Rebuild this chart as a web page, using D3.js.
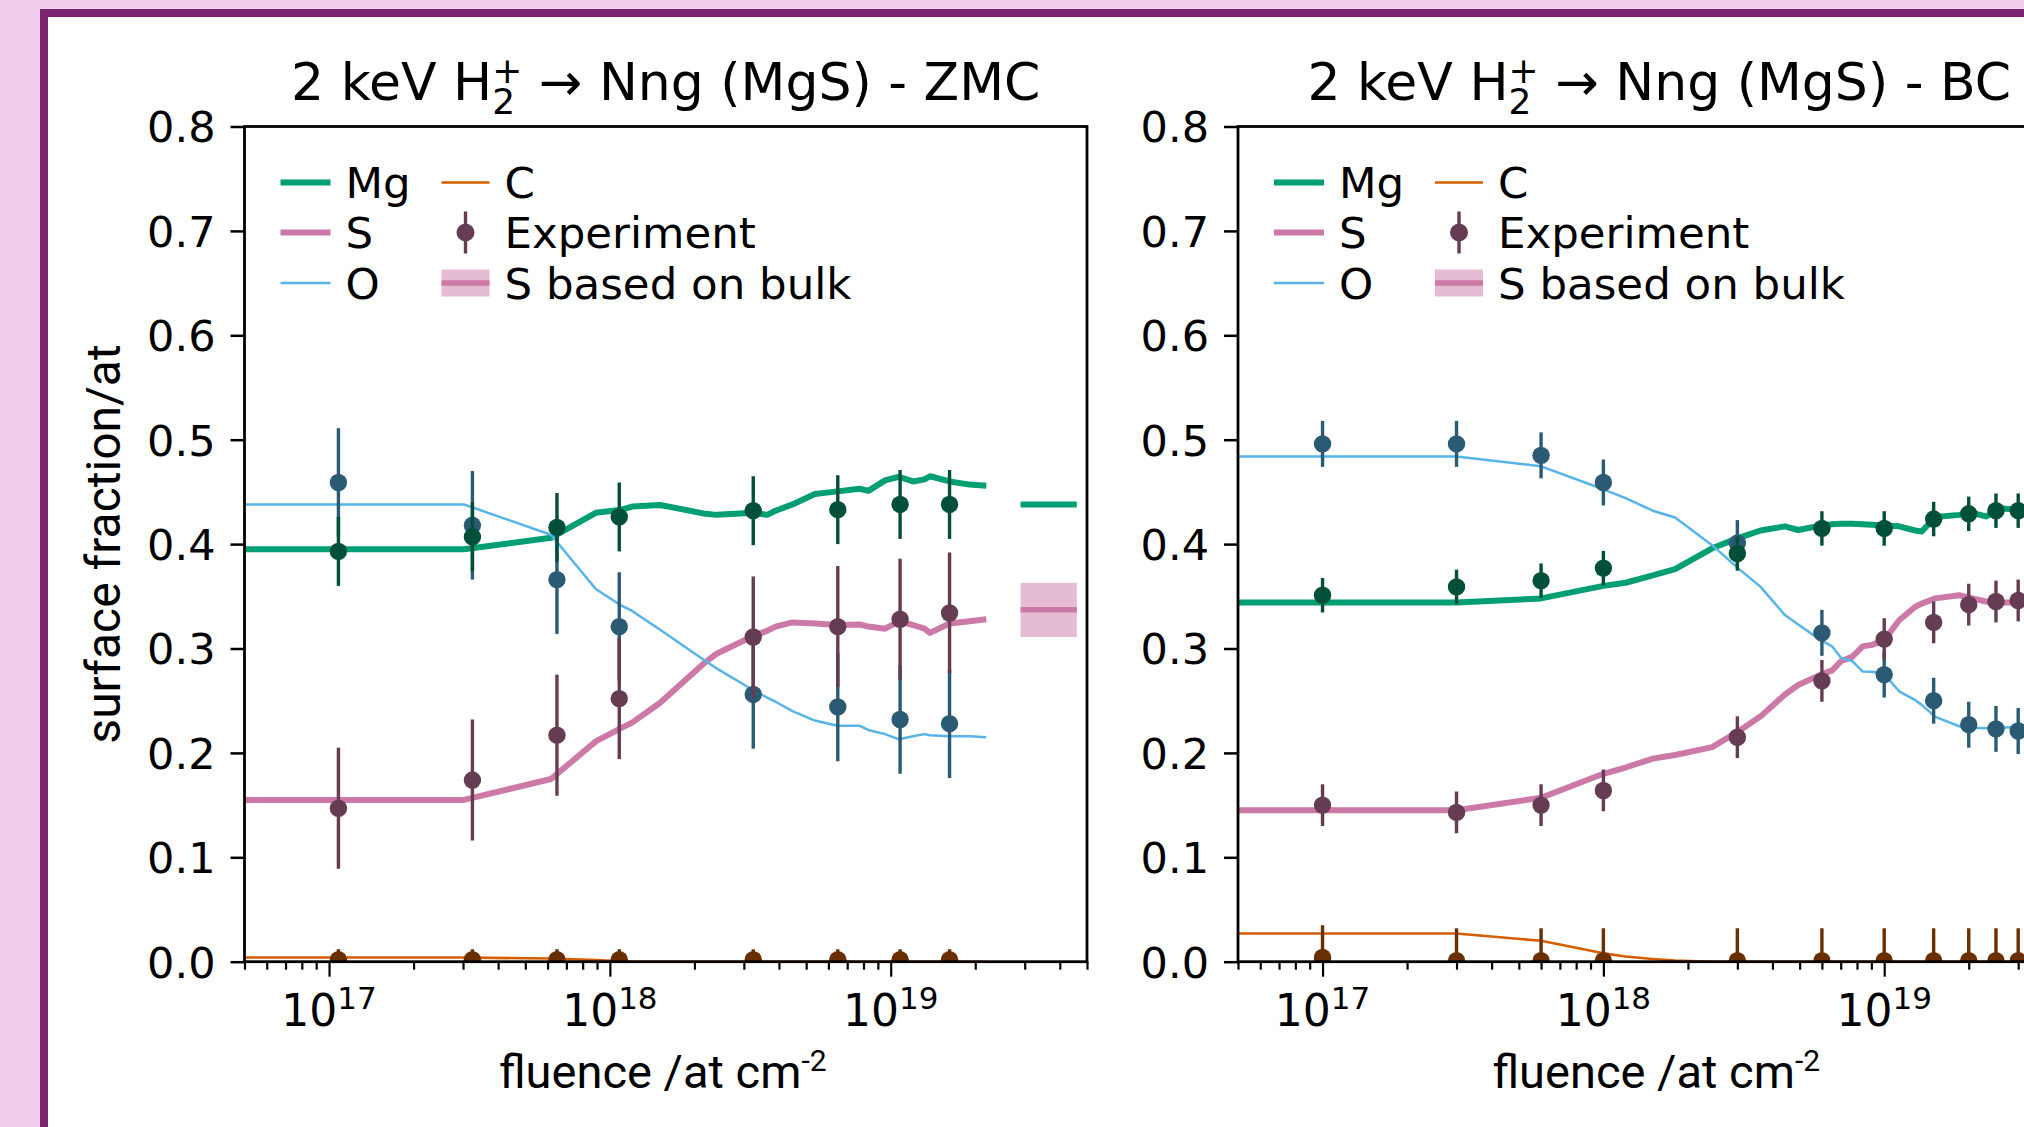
<!DOCTYPE html>
<html lang="en">
<head>
  <meta charset="UTF-8" />
  <title>Surface fraction vs fluence - MgS</title>
  <script src="https://d3js.org/d3.v7.min.js"></script>
  <style>
    body {
      margin: 0;
      padding: 0;
      background-color: #f2ceee;
    }

    svg {
      display: block;
    }

    .mpl {
      font-family: "DejaVu Sans", sans-serif;
      fill: #000;
    }

    .label {
      font-family: Roboto, "Open Sans", sans-serif;
      fill: #000;
    }
  </style>
</head>
<body>
  <svg id="chart" width="2024" height="1127"></svg>

  <script>
    // ---- data -------------------------------------------------------------

    const fluenceDomain = [5e16, 5e19];
    const fractionDomain = [0, 0.8];
    const fractionTicks = [0, 0.1, 0.2, 0.3, 0.4, 0.5, 0.6, 0.7, 0.8];
    const majorFluenceTicks = [1e17, 1e18, 1e19];
    const majorFluenceExps = ["17", "18", "19"];

    // ZMC simulation
    const zmcSimFluence = [5.0e16, 3.02e17, 6.17e17, 8.91e17, 1.10e18, 1.20e18, 1.51e18, 2.19e18,
      2.40e18, 3.24e18, 3.63e18, 3.89e18, 4.47e18, 5.37e18, 6.46e18, 7.76e18, 8.32e18, 9.55e18,
      1.07e19, 1.20e19, 1.32e19, 1.38e19, 1.62e19, 1.91e19, 2.19e19];
    const zmcSimMg = [0.395, 0.395, 0.406, 0.430, 0.433, 0.436, 0.4375, 0.429,
      0.428, 0.430, 0.428, 0.432, 0.438, 0.448, 0.4505, 0.453, 0.451, 0.461,
      0.4645, 0.460, 0.462, 0.465, 0.460, 0.457, 0.456];
    const zmcSimS = [0.155, 0.155, 0.175, 0.211, 0.224, 0.229, 0.248, 0.287,
      0.295, 0.312, 0.317, 0.321, 0.325, 0.324, 0.3225, 0.323, 0.321, 0.319,
      0.326, 0.3225, 0.319, 0.315, 0.324, 0.326, 0.328];
    const zmcSimO = [0.438, 0.438, 0.409, 0.357, 0.341, 0.336, 0.318, 0.288,
      0.281, 0.260, 0.253, 0.249, 0.240, 0.231, 0.226, 0.226, 0.222, 0.218,
      0.213, 0.216, 0.218, 0.217, 0.216, 0.216, 0.215];
    const zmcSimC = [0.004, 0.004, 0.003, 0.0015, 0.0005, 0, 0, 0,
      0, 0, 0, 0, 0, 0, 0, 0, 0, 0,
      0, 0, 0, 0, 0, 0, 0];

    // ZMC experiment
    const zmcExpFluence = [1.08e17, 3.24e17, 6.48e17, 1.08e18, 3.24e18, 6.48e18, 1.08e19, 1.62e19];
    const zmcExpMg = [0.393, 0.407, 0.416, 0.426, 0.432, 0.433, 0.438, 0.438];
    const zmcExpS = [0.147, 0.174, 0.217, 0.252, 0.311, 0.321, 0.328, 0.334];
    const zmcExpO = [0.459, 0.418, 0.366, 0.321, 0.256, 0.244, 0.232, 0.228];
    const zmcExpC = [0.002, 0.002, 0.002, 0.002, 0.002, 0.002, 0.002, 0.002];
    const zmcExpErr = [0.033, 0.058, 0.052, 0.010]; // Mg, S, O, C

    // bulk reference (ZMC panel)
    const bulkFluence = [2.9e19, 4.6e19];
    const bulkMg = 0.438;
    const bulkS = 0.337;
    const bulkSErr = 0.026;

    // BC simulation
    const bcSimFluence = [5.0e16, 3.0e17, 6.0e17, 1.0e18, 1.2e18, 1.5e18, 1.8e18, 2.44e18,
      3.0e18, 3.63e18, 4.43e18, 4.94e18, 5.94e18, 6.53e18, 7.03e18, 7.69e18, 8.38e18, 9.06e18,
      1.0e19, 1.13e19, 1.29e19, 1.36e19, 1.52e19, 1.85e19, 2.06e19, 2.30e19, 2.63e19, 3.02e19, 3.98e19];
    const bcSimMg = [0.344, 0.344, 0.348, 0.360, 0.363, 0.370, 0.376, 0.396,
      0.4055, 0.413, 0.417, 0.4135, 0.4177, 0.419, 0.4195, 0.4195, 0.419, 0.4185,
      0.4177, 0.417, 0.413, 0.412, 0.426, 0.428, 0.430, 0.4265, 0.434, 0.433, 0.433];
    const bcSimS = [0.145, 0.145, 0.157, 0.180, 0.186, 0.1945, 0.198, 0.2055,
      0.220, 0.235, 0.256, 0.265, 0.275, 0.279, 0.288, 0.292, 0.302, 0.3035,
      0.308, 0.327, 0.340, 0.343, 0.348, 0.351, 0.348, 0.345, 0.344, 0.344, 0.344];
    const bcSimO = [0.484, 0.484, 0.4745, 0.4525, 0.444, 0.432, 0.4255, 0.399,
      0.3775, 0.359, 0.332, 0.323, 0.308, 0.302, 0.291, 0.288, 0.278, 0.2778,
      0.2755, 0.259, 0.2505, 0.246, 0.2345, 0.2255, 0.224, 0.2235, 0.224, 0.225, 0.225];
    const bcSimC = [0.027, 0.027, 0.020, 0.008, 0.005, 0.0026, 0.001, 0,
      0, 0, 0, 0, 0, 0, 0, 0, 0, 0,
      0, 0, 0, 0, 0, 0, 0, 0, 0, 0, 0];

    // BC experiment
    const bcExpFluence = [1e17, 3e17, 6e17, 1e18, 3e18, 6e18, 1e19, 1.5e19, 2e19, 2.5e19, 3e19];
    const bcExpMg = [0.351, 0.359, 0.365, 0.377, 0.391, 0.415, 0.415, 0.424, 0.429, 0.432, 0.432];
    const bcExpS = [0.150, 0.143, 0.150, 0.164, 0.215, 0.269, 0.309, 0.325, 0.342, 0.345, 0.346];
    const bcExpO = [0.496, 0.496, 0.485, 0.459, 0.401, 0.315, 0.275, 0.250, 0.227, 0.223, 0.221];
    const bcExpC = [0.004, 0.001, 0.001, 0.001, 0.001, 0.001, 0.001, 0.001, 0.001, 0.001, 0.001];
    const bcExpErr = [0.0165, 0.020, 0.022, 0.031]; // Mg, S, O, C

    const elements = ["Mg", "S", "O", "C"];
    const legendLabels = ["Mg", "S", "O", "C", "Experiment", "S based on bulk"];

    // ---- styles -----------------------------------------------------------

    const lineColors = { Mg: "#009e73", S: "#cc79a7", O: "#56b4e9", C: "#d55e00" };
    const markerColors = { Mg: "#004f39", S: "#663c53", O: "#2b5a74", C: "#6a2f00" };
    const lineWidths = { Mg: 6, S: 6, O: 2.5, C: 2.6 };

    const W = 2024, H = 1127;
    const plotW = 842.5;
    const plotTop = 126.5, plotBottom = 961.7;

    const svg = d3.select("#chart");

    // slide background + frame
    svg.append("rect").attr("width", W).attr("height", H).attr("fill", "#f2ceee");
    svg.append("rect").attr("x", 40).attr("y", 9).attr("width", W - 40).attr("height", H - 9).attr("fill", "#7a2470");
    svg.append("rect").attr("x", 48).attr("y", 17).attr("width", W - 48).attr("height", H - 17).attr("fill", "#ffffff");

    const panels = [
      {
        key: "zmc", left: 244.5, title: "ZMC", ylabel: true,
        simX: zmcSimFluence, sim: { Mg: zmcSimMg, S: zmcSimS, O: zmcSimO, C: zmcSimC },
        expX: zmcExpFluence, exp: { Mg: zmcExpMg, S: zmcExpS, O: zmcExpO, C: zmcExpC },
        err: { Mg: zmcExpErr[0], S: zmcExpErr[1], O: zmcExpErr[2], C: zmcExpErr[3] },
        bulk: true
      },
      {
        key: "bc", left: 1238, title: "BC", ylabel: false,
        simX: bcSimFluence, sim: { Mg: bcSimMg, S: bcSimS, O: bcSimO, C: bcSimC },
        expX: bcExpFluence, exp: { Mg: bcExpMg, S: bcExpS, O: bcExpO, C: bcExpC },
        err: { Mg: bcExpErr[0], S: bcExpErr[1], O: bcExpErr[2], C: bcExpErr[3] },
        bulk: false
      }
    ];

    panels.forEach(drawPanel);

    function drawPanel(p) {
      const x = d3.scaleLog().domain(fluenceDomain).range([p.left, p.left + plotW]);
      const y = d3.scaleLinear().domain(fractionDomain).range([plotBottom, plotTop]);
      const g = svg.append("g");

      const clipId = "clip-" + p.key;
      svg.append("clipPath").attr("id", clipId).append("rect")
        .attr("x", p.left).attr("y", plotTop)
        .attr("width", plotW).attr("height", plotBottom - plotTop);
      const plot = g.append("g").attr("clip-path", `url(#${clipId})`);

      // bulk reference values
      if (p.bulk) {
        plot.append("rect")
          .attr("x", x(bulkFluence[0])).attr("width", x(bulkFluence[1]) - x(bulkFluence[0]))
          .attr("y", y(bulkS + bulkSErr)).attr("height", y(bulkS - bulkSErr) - y(bulkS + bulkSErr))
          .attr("fill", lineColors.S).attr("fill-opacity", 0.5);
        plot.append("line")
          .attr("x1", x(bulkFluence[0])).attr("x2", x(bulkFluence[1]))
          .attr("y1", y(bulkS)).attr("y2", y(bulkS))
          .attr("stroke", lineColors.S).attr("stroke-width", 5.5);
        plot.append("line")
          .attr("x1", x(bulkFluence[0])).attr("x2", x(bulkFluence[1]))
          .attr("y1", y(bulkMg)).attr("y2", y(bulkMg))
          .attr("stroke", lineColors.Mg).attr("stroke-width", 6);
      }

      // simulation curves
      const line = d3.line().x(d => x(d[0])).y(d => y(d[1]));
      elements.forEach(el => {
        plot.append("path")
          .datum(d3.zip(p.simX, p.sim[el]))
          .attr("d", line)
          .attr("fill", "none")
          .attr("stroke", lineColors[el])
          .attr("stroke-width", lineWidths[el])
          .attr("stroke-linejoin", "round");
      });

      // experiment points with error bars
      ["O", "S", "Mg", "C"].forEach(el => {
        const pts = d3.zip(p.expX, p.exp[el]);
        const e = p.err[el];
        const eg = plot.append("g");
        eg.selectAll("line").data(pts).join("line")
          .attr("x1", d => x(d[0])).attr("x2", d => x(d[0]))
          .attr("y1", d => y(d[1] - e)).attr("y2", d => y(d[1] + e))
          .attr("stroke", markerColors[el]).attr("stroke-width", 3.4);
        eg.selectAll("circle").data(pts).join("circle")
          .attr("cx", d => x(d[0])).attr("cy", d => y(d[1]))
          .attr("r", 8.7)
          .attr("fill", markerColors[el]);
      });

      // axes
      const yAxis = d3.axisLeft(y)
        .tickValues(fractionTicks)
        .tickFormat(d3.format(".1f"))
        .tickSizeInner(14).tickSizeOuter(0).tickPadding(15);
      const yg = g.append("g").attr("transform", `translate(${p.left},0)`).call(yAxis);
      yg.select(".domain").remove();
      yg.selectAll(".tick line").attr("stroke", "#000").attr("stroke-width", 2.5);
      yg.selectAll(".tick text")
        .attr("class", "mpl").attr("font-size", 43).attr("dy", "0.36em");
      yg.attr("font-family", null).attr("font-size", null);

      const minorTicks = x.ticks().filter(v => !majorFluenceTicks.includes(v));
      const xMinor = d3.axisBottom(x).tickValues(minorTicks).tickFormat("").tickSizeInner(8).tickSizeOuter(0);
      const xMajor = d3.axisBottom(x).tickValues(majorFluenceTicks).tickFormat("").tickSizeInner(15).tickSizeOuter(0);
      [xMinor, xMajor].forEach(ax => {
        const xg = g.append("g").attr("transform", `translate(0,${plotBottom})`).call(ax);
        xg.select(".domain").remove();
        xg.selectAll(".tick line").attr("stroke", "#000").attr("stroke-width", 2.2);
      });

      // x tick labels 10^n
      const xl = g.append("g").selectAll("text").data(majorFluenceTicks).join("text")
        .attr("class", "mpl")
        .attr("x", d => x(d)).attr("y", 1026)
        .attr("text-anchor", "middle")
        .attr("font-size", 44);
      xl.append("tspan").text("10");
      xl.append("tspan").attr("dy", -17).attr("font-size", 31).text((d, i) => majorFluenceExps[i]);

      // spines
      g.append("rect")
        .attr("x", p.left).attr("y", plotTop)
        .attr("width", plotW).attr("height", plotBottom - plotTop)
        .attr("fill", "none").attr("stroke", "#000").attr("stroke-width", 2.8);

      // title
      const t = g.append("text").attr("class", "mpl")
        .attr("x", p.left + plotW / 2).attr("y", 100)
        .attr("text-anchor", "middle").attr("font-size", 52);
      t.append("tspan").text("2 keV H");
      t.append("tspan").attr("dy", 13.5).attr("font-size", 36).text("2");
      t.append("tspan").attr("dx", -22.9).attr("dy", -30.5).attr("font-size", 36).text("+");
      t.append("tspan").attr("dy", 17).text(" \u2192 Nng (MgS) - " + p.title);

      // axis labels
      const xlab = g.append("text").attr("class", "label")
        .attr("x", p.left + plotW / 2 - 3).attr("y", 1088)
        .attr("text-anchor", "middle").attr("font-size", 47);
      xlab.append("tspan").text("fluence /at cm");
      xlab.append("tspan").attr("dy", -17).attr("font-size", 30).text("-2");

      if (p.ylabel) {
        g.append("text").attr("class", "label")
          .attr("transform", "translate(120,544) rotate(-90)")
          .attr("text-anchor", "middle").attr("font-size", 48)
          .text("surface fraction/at");
      }

      drawLegend(g, p.left);
    }

    function drawLegend(g, left) {
      const rows = [plotTop + 56, plotTop + 106, plotTop + 156.5];
      const cols = [{ h0: left + 36, h1: left + 86, tx: left + 101 },
                    { h0: left + 197, h1: left + 245, tx: left + 260 }];
      const lg = g.append("g");

      legendLabels.forEach((lab, i) => {
        const c = cols[Math.floor(i / 3)];
        const ry = rows[i % 3];
        if (i < 4) {
          const el = elements[i];
          lg.append("line")
            .attr("x1", c.h0).attr("x2", c.h1).attr("y1", ry).attr("y2", ry)
            .attr("stroke", lineColors[el]).attr("stroke-width", lineWidths[el]);
        } else if (i === 4) {
          const cx = (c.h0 + c.h1) / 2;
          lg.append("line")
            .attr("x1", cx).attr("x2", cx).attr("y1", ry - 21).attr("y2", ry + 21)
            .attr("stroke", markerColors.S).attr("stroke-width", 3.4);
          lg.append("circle").attr("cx", cx).attr("cy", ry).attr("r", 9).attr("fill", markerColors.S);
        } else {
          lg.append("rect")
            .attr("x", c.h0).attr("y", ry - 13.5).attr("width", c.h1 - c.h0).attr("height", 27)
            .attr("fill", lineColors.S).attr("fill-opacity", 0.5);
          lg.append("line")
            .attr("x1", c.h0).attr("x2", c.h1).attr("y1", ry).attr("y2", ry)
            .attr("stroke", lineColors.S).attr("stroke-width", 5.5);
        }
        lg.append("text").attr("class", "mpl")
          .attr("x", c.tx).attr("y", ry).attr("dy", "0.36em")
          .attr("font-size", 43.5)
          .text(lab);
      });
    }
  </script>
</body>
</html>
